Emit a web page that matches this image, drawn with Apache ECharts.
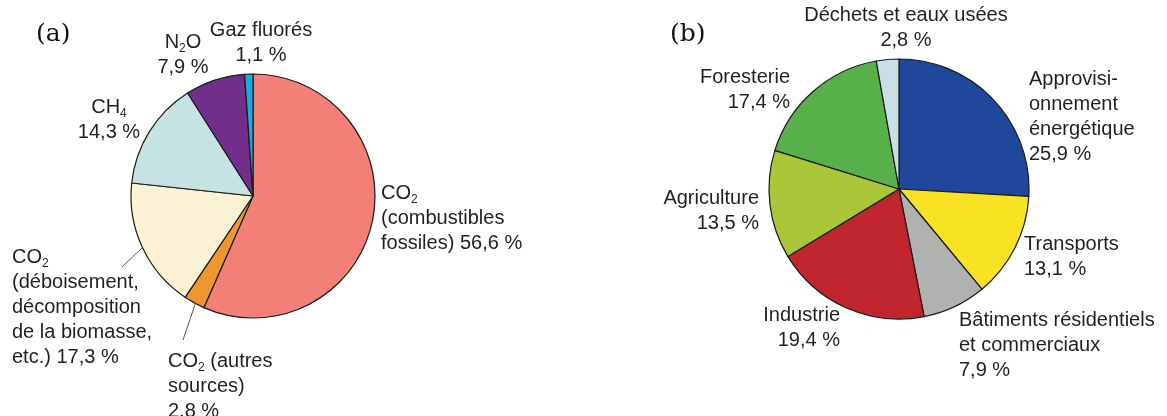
<!DOCTYPE html>
<html>
<head>
<meta charset="utf-8">
<script src="https://cdn.jsdelivr.net/npm/echarts@6/dist/echarts.min.js"></script>
<style>
html,body{margin:0;padding:0;background:#fff;}
#c{width:1167px;height:416px;}
</style>
</head>
<body>
<div id="c"></div>
<script>
// ---- Data: (a) greenhouse gases ----
const gasNames = ['CO2 (combustibles fossiles)', 'CO2 (autres sources)', 'CO2 (déboisement, décomposition de la biomasse, etc.)', 'CH4', 'N2O', 'Gaz fluorés'];
const gasLabels = ['CO{s|2}\n(combustibles\nfossiles) {v}', 'CO{s|2} (autres\nsources)\n{v}', 'CO{s|2}\n(déboisement,\ndécomposition\nde la biomasse,\netc.) {v}', 'CH{s|4}\n{v}', 'N{s|2}O\n{v}', 'Gaz fluorés\n{v}'];
const gasValues = [56.6, 2.8, 17.3, 14.3, 7.9, 1.1];
const gasColors = ['#f38077', '#ef962f', '#faf2d2', '#c4e3e2', '#722e8b', '#17ade2'];

// ---- Data: (b) sectors ----
const sectorNames = ['Approvisionnement énergétique', 'Transports', 'Bâtiments résidentiels et commerciaux', 'Industrie', 'Agriculture', 'Foresterie', 'Déchets et eaux usées'];
const sectorLabels = ['Approvisi-\nonnement\nénergétique\n{v}', 'Transports\n{v}', 'Bâtiments résidentiels\net commerciaux\n{v}', 'Industrie\n{v}', 'Agriculture\n{v}', 'Foresterie\n{v}', 'Déchets et eaux usées\n{v}'];
const sectorValues = [25.9, 13.1, 7.9, 19.4, 13.5, 17.4, 2.8];
const sectorColors = ['#1f489d', '#f9e223', '#b0b2b0', '#c1252e', '#aac73a', '#57b04a', '#c9dfe5'];

// ---- Layout (positions only) ----
const pieA = {cx: 253, cy: 196, r: 122};
const pieB = {cx: 899, cy: 189, r: 130};
const gasLabelPos = [
  {x: 381, y: 181, align: 'left'},
  {x: 168, y: 349, align: 'left'},
  {x: 12, y: 245, align: 'left'},
  {x: 109, y: 95, align: 'center'},
  {x: 183, y: 30, align: 'center'},
  {x: 261, y: 18, align: 'center'}
];
// leader lines: radial fraction where the line starts, and its outer end
const gasLeader = [null, {rf: 0.94, end: [183, 340]}, {rf: 1.0, end: [122, 267]}, null, null, null];
const sectorLabelPos = [
  {x: 1029, y: 67, align: 'left'},
  {x: 1024, y: 232, align: 'left'},
  {x: 959, y: 308, align: 'left'},
  {x: 840, y: 303, align: 'right'},
  {x: 759, y: 186, align: 'right'},
  {x: 790, y: 65, align: 'right'},
  {x: 906, y: 3, align: 'center'}
];

const fmt = v => v.toFixed(1).replace('.', ',') + ' %';
const textColor = '#231f20';
const font = 'Liberation Sans, Arial, sans-serif';

function build(names, labels, values, colors, leaders) {
  return names.map((n, i) => ({
    name: n,
    value: values[i],
    itemStyle: {color: colors[i]},
    label: {formatter: () => labels[i].replace('{v}', fmt(values[i]))},
    labelLine: {show: !!(leaders && leaders[i])}
  }));
}

function midAngle(values, i) {
  const total = values.reduce((a, b) => a + b, 0);
  let before = 0;
  for (let k = 0; k < i; k++) before += values[k];
  return (before + values[i] / 2) / total * Math.PI * 2; // clockwise from top
}

function labelCfg() {
  return {
    show: true,
    color: textColor,
    fontFamily: font,
    fontSize: 20,
    lineHeight: 25,
    rich: {
      s: {fontSize: 12, fontFamily: font, color: textColor, verticalAlign: 'bottom', lineHeight: 6}
    }
  };
}

const chart = echarts.init(document.getElementById('c'));
chart.setOption({
  backgroundColor: '#fff',
  animation: false,
  title: [
    {text: '(a)', left: 31, top: 17, textStyle: {fontFamily: 'DejaVu Serif, serif', fontWeight: 'normal', fontSize: 25, color: '#111'}},
    {text: '(b)', left: 665, top: 17, textStyle: {fontFamily: 'DejaVu Serif, serif', fontWeight: 'normal', fontSize: 25, color: '#111'}}
  ],
  series: [
    {
      type: 'pie',
      center: [pieA.cx, pieA.cy],
      radius: pieA.r,
      startAngle: 90,
      clockwise: true,
      avoidLabelOverlap: false,
      silent: true,
      itemStyle: {borderColor: '#1a1a1a', borderWidth: 1.2},
      label: labelCfg(),
      labelLine: {lineStyle: {color: '#555', width: 1}},
      labelLayout: p => {
        const o = Object.assign({verticalAlign: 'top'}, gasLabelPos[p.dataIndex]);
        const ld = gasLeader[p.dataIndex];
        if (ld) {
          const a = midAngle(gasValues, p.dataIndex);
          const rr = pieA.r * ld.rf;
          const s = [pieA.cx + rr * Math.sin(a), pieA.cy - rr * Math.cos(a)];
          o.labelLinePoints = [s, [(s[0] + ld.end[0]) / 2, (s[1] + ld.end[1]) / 2], ld.end];
        }
        return o;
      },
      data: build(gasNames, gasLabels, gasValues, gasColors, gasLeader)
    },
    {
      type: 'pie',
      center: [pieB.cx, pieB.cy],
      radius: pieB.r,
      startAngle: 90,
      clockwise: true,
      avoidLabelOverlap: false,
      silent: true,
      itemStyle: {borderColor: '#1a1a1a', borderWidth: 1.2},
      label: labelCfg(),
      labelLine: {show: false},
      labelLayout: p => Object.assign({verticalAlign: 'top'}, sectorLabelPos[p.dataIndex]),
      data: build(sectorNames, sectorLabels, sectorValues, sectorColors, null)
    }
  ]
});
</script>
</body>
</html>
